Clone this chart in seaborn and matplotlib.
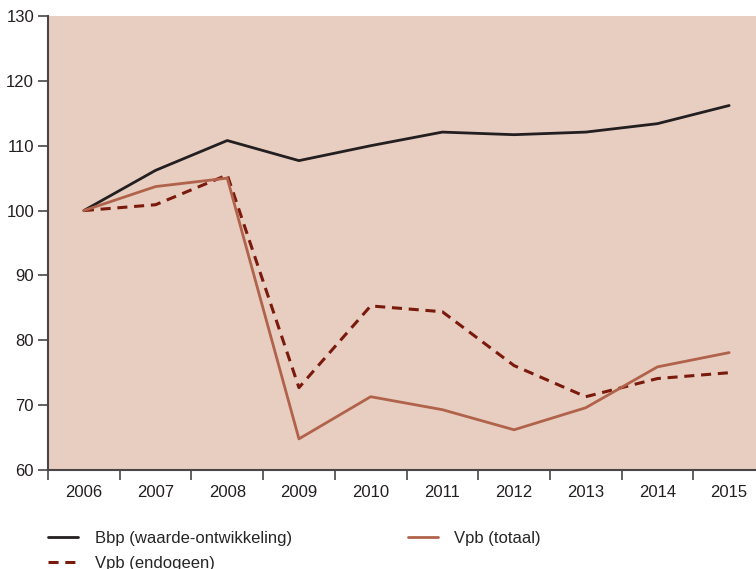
import numpy as np
import pandas as pd
import seaborn as sns
import matplotlib.pyplot as plt
from matplotlib.ticker import FixedLocator

# data
years = [2006, 2007, 2008, 2009, 2010, 2011, 2012, 2013, 2014, 2015]
bbp = [100.0, 106.2, 110.8, 107.7, 110.0, 112.1, 111.7, 112.1, 113.4, 116.2]
vpb_totaal = [100.0, 103.7, 105.0, 64.8, 71.3, 69.3, 66.2, 69.6, 75.9, 78.1]
vpb_endogeen = [100.0, 100.9, 105.5, 72.7, 85.3, 84.4, 76.1, 71.3, 74.1, 75.0]

labels = ["Bbp (waarde-ontwikkeling)", "Vpb (endogeen)", "Vpb (totaal)"]
colors = ["#231f20", "#7a1a0c", "#b0634a"]

sns.set_style("white")
plt.rcParams['font.family'] = ['Liberation Sans', 'DejaVu Sans']
plt.rcParams['font.size'] = 12

fig = plt.figure(figsize=(7.56, 5.69), dpi=100)
ax = fig.add_axes([48 / 756, 1 - 470 / 569, 717 / 756, 454 / 569])
ax.set_facecolor("#e8cdc1")

sns.lineplot(x=years, y=bbp, ax=ax, color=colors[0], linewidth=2, label=labels[0])
sns.lineplot(x=years, y=vpb_endogeen, ax=ax, color=colors[1], linewidth=2.2,
             label=labels[1], dashes=False)
ax.lines[-1].set_dashes([3.3, 2.2])
sns.lineplot(x=years, y=vpb_totaal, ax=ax, color=colors[2], linewidth=2, label=labels[2])

ax.set_xlim(2005.5, 2015.5)
ax.set_ylim(60, 130)
ax.set_yticks(range(60, 131, 10))
ax.set_xticks(years)
ax.xaxis.set_minor_locator(FixedLocator([y - 0.5 for y in years]))
ax.tick_params(axis="x", which="major", bottom=True, length=0, pad=11,
               labelcolor="#231f20", labelsize=12)
ax.tick_params(axis="x", which="minor", bottom=True, length=7, width=1.2,
               color="#4a4546", direction="out")
ax.tick_params(axis="y", which="major", left=True, length=7, width=1.2, color="#4a4546",
               direction="out", pad=3, labelsize=12, labelcolor="#231f20")
ax.set_xlabel("")
ax.set_ylabel("")

for s in ["top", "right"]:
    ax.spines[s].set_visible(False)
for s in ["left", "bottom"]:
    ax.spines[s].set_color("#4a4546")
    ax.spines[s].set_linewidth(1.5)

handles, labs = ax.get_legend_handles_labels()
ax.get_legend().remove()
fig.legend(handles, labs, ncol=2, loc="upper left", bbox_to_anchor=(48 / 756, 1 - 531 / 569),
           frameon=False, borderpad=0, borderaxespad=0, handlelength=1.8,
           handletextpad=1.0, columnspacing=6.95, labelspacing=0.6, fontsize=12)

fig.savefig("out.png", dpi=100)
